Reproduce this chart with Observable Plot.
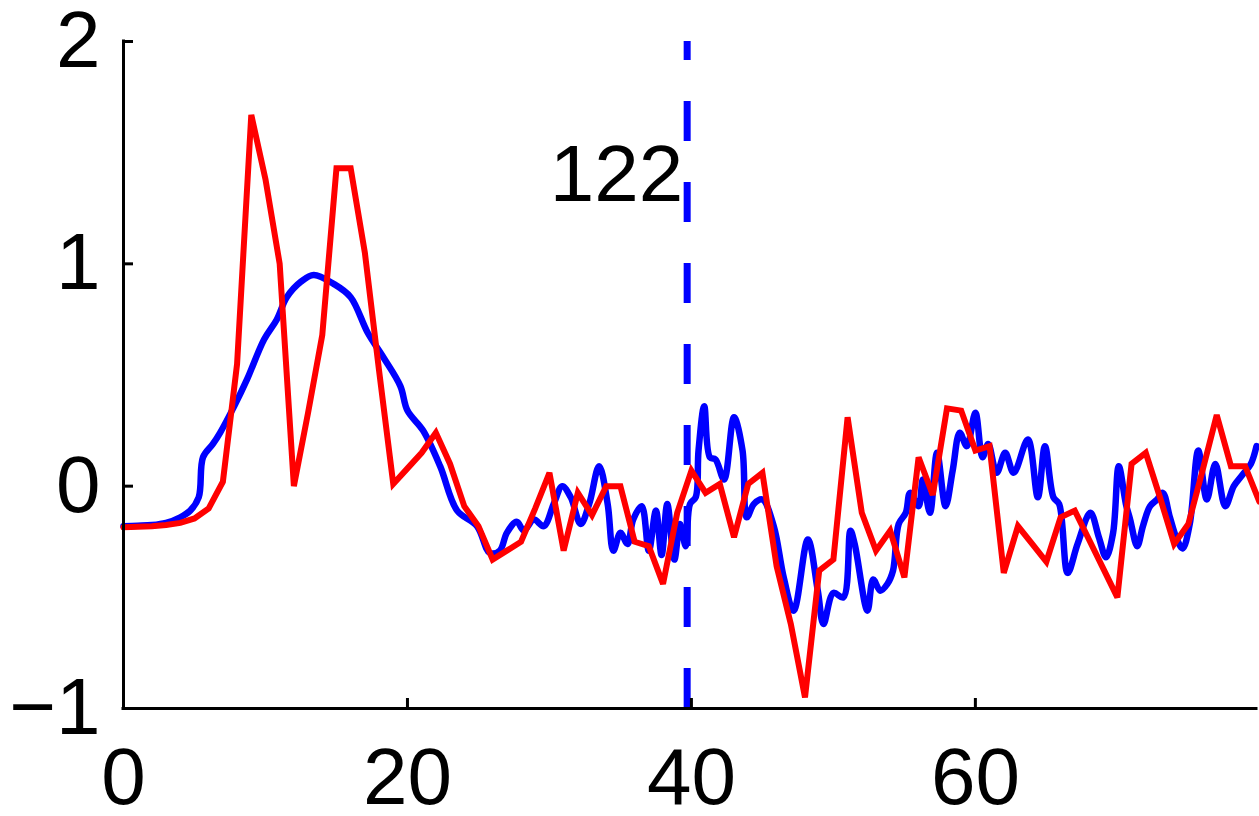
<!DOCTYPE html>
<html>
<head>
<meta charset="utf-8">
<script src="https://cdn.jsdelivr.net/npm/d3@7"></script>
<script src="https://cdn.jsdelivr.net/npm/@observablehq/plot@0.6"></script>
<style>
  html, body { margin: 0; padding: 0; background: #fff; overflow: hidden; }
  #chart svg { display: block; }
</style>
</head>
<body>
<div id="chart"></div>
<script>
// ---- data ----
const redX = [0,1,2,3,4,5,6,7,8,9,10,11,12,13,14,15,16,17,18,19,20,21,22,23,24,25,26,27,28,29,30,31,32,33,34,35,36,37,38,39,40,41,42,43,44,45,46,47,48,49,50,51,52,53,54,55,56,57,58,59,60,61,62,63,64,65,66,67,68,69,70,71,72,73,74,75,76,77,78,79,80];
const redY = [-0.185,-0.183,-0.18,-0.175,-0.165,-0.145,-0.10,0.02,0.55,1.67,1.38,1.0,0.0,0.33,0.68,1.43,1.43,1.05,0.52,0.01,0.08,0.15,0.24,0.10,-0.09,-0.18,-0.33,-0.29,-0.25,-0.10,0.06,-0.29,-0.03,-0.13,0.0,0.0,-0.25,-0.27,-0.44,-0.12,0.07,-0.03,0.01,-0.23,0.01,0.06,-0.36,-0.62,-0.95,-0.38,-0.33,0.31,-0.12,-0.29,-0.20,-0.41,0.13,-0.04,0.35,0.34,0.16,0.18,-0.39,-0.18,-0.26,-0.34,-0.14,-0.11,-0.24,-0.37,-0.50,0.10,0.15,-0.05,-0.26,-0.17,0.07,0.32,0.09,0.09,-0.07];

const blueX = [0,1,2,3,4,4.7,5.3,5.6,6.3,6.8,7.8,8.7,9.9,10.8,11.5,12.5,13.4,14.8,16,17.2,18.3,19.5,20,21.1,22.3,23.5,24.9,25.8,26.5,27,27.7,28.2,28.9,29.6,30.3,30.9,31.5,32.2,32.8,33.5,34.1,34.5,35,35.5,35.9,36.5,37,37.5,37.9,38.3,38.8,39.2,39.6,39.9,40.3,40.5,40.9,41.3,41.7,42.3,43,43.6,43.9,44.4,45,45.8,46.5,47.2,48.2,48.9,49.3,50,50.7,51.2,51.5,52.4,52.8,53.3,53.8,54.2,54.6,55.1,55.4,56,56.3,56.8,57.3,57.9,58.4,58.9,59.4,60,60.5,60.9,61.5,62.1,62.7,63.7,64.4,64.9,65.5,65.9,66.5,67.2,68.1,68.7,69.2,69.7,70.1,70.6,70.9,71.4,71.8,72.3,72.8,73.2,73.7,74.2,74.6,75.1,75.7,76.3,76.9,77.6,78.2,78.8,79.4,79.8];
const blueY = [-0.18,-0.178,-0.175,-0.165,-0.14,-0.11,-0.05,0.13,0.19,0.24,0.36,0.48,0.66,0.75,0.85,0.92,0.95,0.91,0.85,0.69,0.58,0.45,0.34,0.25,0.09,-0.11,-0.18,-0.30,-0.29,-0.21,-0.16,-0.20,-0.15,-0.18,-0.08,0.0,-0.05,-0.17,-0.08,0.09,-0.08,-0.29,-0.21,-0.26,-0.15,-0.09,-0.29,-0.11,-0.31,-0.08,-0.33,-0.17,-0.27,-0.08,-0.05,0.16,0.36,0.13,0.12,0.03,0.31,0.16,-0.14,-0.08,-0.06,-0.18,-0.41,-0.56,-0.24,-0.47,-0.62,-0.48,-0.50,-0.20,-0.26,-0.56,-0.42,-0.47,-0.44,-0.38,-0.17,-0.12,-0.03,-0.09,0.03,-0.12,0.15,-0.09,0.07,0.24,0.18,0.33,0.13,0.19,0.06,0.15,0.06,0.21,-0.05,0.18,-0.05,-0.08,-0.39,-0.26,-0.12,-0.23,-0.32,-0.21,0.09,-0.08,-0.15,-0.27,-0.18,-0.09,-0.06,-0.03,-0.14,-0.24,-0.28,-0.17,0.16,-0.06,0.10,-0.09,0.0,0.05,0.10,0.18];

const markerX = 39.7;
const markerLabel = "122";
const markerLabelY = 1.40;

const xTicks = [0, 20, 40, 60];
const yTicks = [-1, 0, 1, 2];
const xDomain = [0, 79.8];
const yDomain = [-1, 2];

// ---- build tables ----
const red = redX.map((x, i) => ({x, y: redY[i]}));
const blue = blueX.map((x, i) => ({x, y: blueY[i]}));

// ---- layout ----
const W = 1259, H = 816;
const mL = 123, mR = 3, mT = 41, mB = 108;
const frameW = W - mL - mR, frameH = H - mT - mB;
const tickLen = 10;
const BLUE = "#0000ff", RED = "#ff0000", INK = "#000";
const intFmt = d3.format("d");

const chart = Plot.plot({
  width: W,
  height: H,
  marginLeft: mL,
  marginRight: mR,
  marginTop: mT,
  marginBottom: mB,
  x: {domain: xDomain, label: null},
  y: {domain: yDomain, label: null},
  style: {
    fontFamily: "'Liberation Sans', Arial, Helvetica, sans-serif",
    fontSize: "80px",
    background: "#fff",
    color: INK
  },
  marks: [
    Plot.ruleX([markerX], {x: d => d, y1: yDomain[0], y2: yDomain[1], stroke: BLUE, strokeWidth: 7, strokeDasharray: "40,41", strokeLinecap: "butt"}),
    Plot.line(blue, {x: "x", y: "y", stroke: BLUE, strokeWidth: 6.5, curve: "catmull-rom"}),
    Plot.line(red, {x: "x", y: "y", stroke: RED, strokeWidth: 6, curve: "linear", strokeLinejoin: "miter", strokeMiterlimit: 3}),
    Plot.text([markerLabel], {x: markerX, y: markerLabelY, text: d => d, textAnchor: "end", dx: -4, fontSize: 80, fill: INK}),
    Plot.ruleX([xDomain[0]], {x: d => d, stroke: INK, strokeWidth: 3, strokeLinecap: "square"}),
    Plot.ruleY([yDomain[0]], {y: d => d, stroke: INK, strokeWidth: 3, strokeLinecap: "square"}),
    Plot.tickY(yTicks, {y: d => d, stroke: INK, strokeWidth: 3, insetRight: frameW - tickLen}),
    Plot.tickX(xTicks, {x: d => d, stroke: INK, strokeWidth: 3, insetTop: frameH - tickLen}),
    Plot.axisY({ticks: yTicks, tickFormat: intFmt, tickSize: 0, tickPadding: 23, fontSize: 80, label: null}),
    Plot.axisX({ticks: xTicks, tickFormat: intFmt, tickSize: 0, tickPadding: 39, fontSize: 80, label: null})
  ]
});

document.getElementById("chart").appendChild(chart);
</script>
</body>
</html>
